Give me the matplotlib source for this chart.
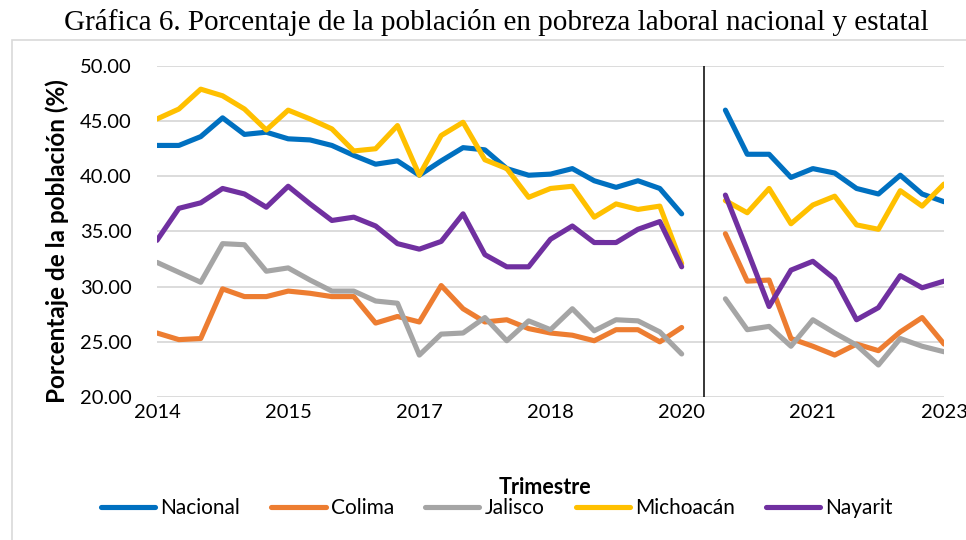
import numpy as np
import matplotlib
matplotlib.use("Agg")
import matplotlib.pyplot as plt
from matplotlib.patches import Rectangle

# Quarterly categories 2014Q1 .. 2023Q1 (2020Q2 missing)
quarters = [f"{y}Q{q}" for y in range(2014, 2024) for q in range(1, 5)][:37]
tick_idx = [0, 6, 12, 18, 24, 30, 36]
tick_labels = ["2014", "2015", "2017", "2018", "2020", "2021", "2023"]
break_idx = 25  # 2020Q2, no data

nan = np.nan
nacional = [42.8, 42.8, 43.6, 45.3, 43.8, 44.0, 43.4, 43.3, 42.8, 41.9, 41.1, 41.4, 40.1,
            41.4, 42.6, 42.4, 40.7, 40.1, 40.2, 40.7, 39.6, 39.0, 39.6, 38.9, 36.6,
            nan,
            46.0, 42.0, 42.0, 39.9, 40.7, 40.3, 38.9, 38.4, 40.1, 38.4, 37.7]
colima = [25.8, 25.2, 25.3, 29.8, 29.1, 29.1, 29.6, 29.4, 29.1, 29.1, 26.7, 27.3, 26.8,
          30.1, 28.0, 26.8, 27.0, 26.2, 25.8, 25.6, 25.1, 26.1, 26.1, 25.0, 26.3,
          nan,
          34.8, 30.5, 30.6, 25.3, 24.6, 23.8, 24.8, 24.2, 25.9, 27.2, 24.8]
jalisco = [32.2, 31.3, 30.4, 33.9, 33.8, 31.4, 31.7, 30.6, 29.6, 29.6, 28.7, 28.5, 23.8,
           25.7, 25.8, 27.2, 25.1, 26.9, 26.1, 28.0, 26.0, 27.0, 26.9, 25.9, 23.9,
           nan,
           28.9, 26.1, 26.4, 24.6, 27.0, 25.8, 24.7, 22.9, 25.3, 24.6, 24.1]
michoacan = [45.2, 46.1, 47.9, 47.3, 46.1, 44.2, 46.0, 45.2, 44.3, 42.3, 42.5, 44.6, 40.1,
             43.7, 44.9, 41.5, 40.7, 38.1, 38.9, 39.1, 36.3, 37.5, 37.0, 37.3, 32.1,
             nan,
             37.8, 36.7, 38.9, 35.7, 37.4, 38.2, 35.6, 35.2, 38.7, 37.3, 39.3]
nayarit = [34.2, 37.1, 37.6, 38.9, 38.4, 37.2, 39.1, 37.5, 36.0, 36.3, 35.5, 33.9, 33.4,
           34.1, 36.6, 32.9, 31.8, 31.8, 34.3, 35.5, 34.0, 34.0, 35.2, 35.9, 31.8,
           nan,
           38.3, 33.3, 28.2, 31.5, 32.3, 30.7, 27.0, 28.1, 31.0, 29.9, 30.5]

series = [("Nacional", nacional, "#0070C0"),
          ("Colima", colima, "#ED7D31"),
          ("Jalisco", jalisco, "#A5A5A5"),
          ("Michoacán", michoacan, "#FFC000"),
          ("Nayarit", nayarit, "#7030A0")]

W, H = 966, 540
fig = plt.figure(figsize=(W / 100, H / 100), dpi=100)
ax = fig.add_axes([157 / W, 1 - 397 / H, (944 - 157) / W, (397 - 66) / H])

x = np.arange(len(quarters))
for name, vals, col in series:
    ax.plot(x, np.array(vals, dtype=float), color=col, lw=3.7, label=name,
            solid_capstyle="round", solid_joinstyle="round", zorder=3)

ax.axvline(break_idx, ymin=0, ymax=1, color="black", lw=1.1, zorder=4)

ax.set_xlim(0, len(quarters) - 1)
ax.set_ylim(20, 50)
ax.set_yticks(np.arange(20, 51, 5))
ax.set_yticklabels([f"{v:.2f}" for v in np.arange(20, 51, 5)])
ax.set_xticks(tick_idx)
ax.set_xticklabels(tick_labels)
ax.grid(axis="y", color="#D9D9D9", lw=1.3, zorder=0)
ax.set_axisbelow(True)
for s in ax.spines.values():
    s.set_visible(False)
ax.tick_params(axis="both", length=0, labelsize=14.5, colors="black")
ax.tick_params(axis="y", pad=18)
ax.tick_params(axis="x", pad=5)
for lab in ax.get_xticklabels() + ax.get_yticklabels():
    lab.set_family("Lato")

fig.text(496 / W, 1 - 22 / H,
         "Gráfica 6. Porcentaje de la población en pobreza laboral nacional y estatal",
         ha="center", va="center", family="Liberation Serif", fontsize=21)

fig.text(57.5 / W, 1 - 241 / H, "Porcentaje de la población (%)", rotation=90,
         ha="center", va="center", family="Lato", fontweight="bold", fontsize=17.5)

fig.text(545 / W, 1 - 487 / H, "Trimestre", ha="center", va="center",
         family="Lato", fontweight="bold", fontsize=15.5)

leg = fig.legend(loc="center", bbox_to_anchor=(497 / W, 1 - 508 / H), ncol=5,
                 frameon=False, handlelength=2.6, handletextpad=0.25,
                 columnspacing=1.5, prop={"family": "Lato", "size": 15})
for h in leg.get_lines():
    h.set_linewidth(3.7)
    h.set_solid_capstyle("round")

fig.add_artist(Rectangle((12 / W, -0.02), 1.05, 1 - 40 / H + 0.02,
                         transform=fig.transFigure, fill=False,
                         edgecolor="#D9D9D9", lw=1.2))

fig.savefig("out.png", dpi=100)
